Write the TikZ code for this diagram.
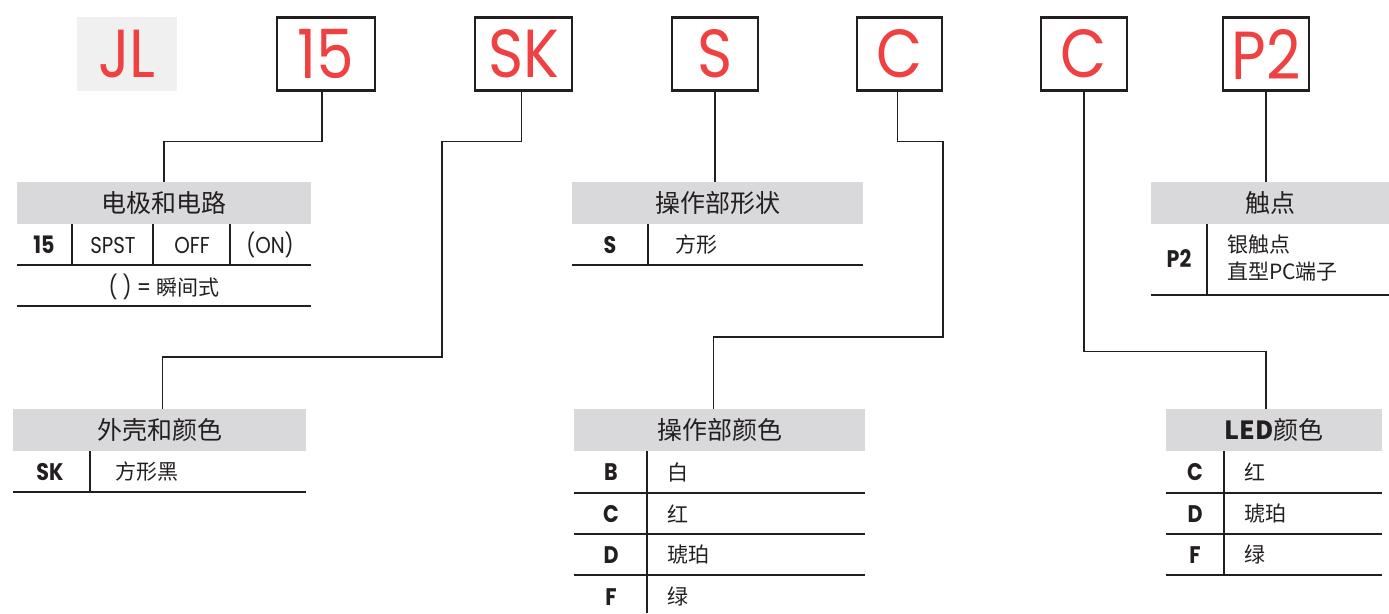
\documentclass[tikz,border=0pt]{standalone}
\usepackage{fontspec}
\setmainfont{Poppins}[FakeStretch=0.86]
\newfontfamily\cjk{Noto Sans CJK SC}
\newfontfamily\codefont{Poppins}[FakeStretch=0.88]
\usetikzlibrary{calc}

\definecolor{codered}{RGB}{239,65,66}
\definecolor{headgray}{RGB}{217,217,219}
\definecolor{jlgray}{RGB}{240,240,240}
\definecolor{ink}{RGB}{35,31,32}

\begin{document}
\begin{tikzpicture}[x=1pt,y=-1pt,
        codebox/.style={draw=ink, line width=2.5pt, minimum height=73pt, inner sep=0pt, text=codered, font=\codefont\fontsize{68}{70}\selectfont},
        headbar/.style={fill=headgray, minimum height=42pt, inner sep=0pt, text=ink, font=\cjk\fontsize{25}{30}\selectfont},
        code/.style={text=ink, inner sep=0pt, font=\bfseries\fontsize{24}{28}\selectfont},
        entry/.style={anchor=west, text=ink, inner sep=0pt, font=\cjk\fontsize{21}{26}\selectfont},
        word/.style={text=ink, inner sep=0pt, font=\fontsize{23}{27}\selectfont},
        tabline/.style={draw=ink, line width=1.2pt},
        link/.style={draw=ink, line width=1.2pt}]

            \useasboundingbox (0,0) rectangle (1389,613);

            \node[fill=jlgray, minimum width=100pt, minimum height=74pt, inner sep=0pt, text=codered, font=\codefont\fontsize{68}{70}\selectfont] (jl) at (127,54) {JL};
            \node[codebox, minimum width=98pt] (c15) at (326,54) {15};
            \node[codebox, minimum width=97pt] (cSK) at (523.5,54) {SK};
            \node[codebox, minimum width=86pt] (cS) at (715,54) {S};
            \node[codebox, minimum width=85pt] (cC) at (899.5,54) {C};
            \node[codebox, minimum width=86pt] (cLED) at (1084,54) {C};
            \node[codebox, minimum width=86pt] (cP2) at (1266,54) {P2};

            \node[headbar, minimum width=294pt] (h15) at (164,203) {电极和电路};
            \node[code] (n15) at (44,245) {15};
            \node[word] (spst) at (113,245) {SPST};
            \node[word] (off) at (192,245) {OFF};
            \node[word] (on) at (270,245) {(ON)};
            \node[word] (mom) at (164,287) {(\hspace{5pt}) = {\cjk\fontsize{21}{26}\selectfont 瞬间式}};
            \draw[tabline] (72,224) -- (72,265) (153,224) -- (153,265) (230,224) -- (230,265);
            \draw[tabline] (17,265) -- (311,265) (17,306) -- (311,306);

            \node[headbar, minimum width=291pt] (hS) at (717.5,203) {操作部形状};
            \node[code] (nS) at (610,245) {S};
            \node[entry] (square) at (675,245) {方形};
            \draw[tabline] (648,224) -- (648,265) (572,265) -- (863,265);

            \node[headbar, minimum width=238pt] (hP2) at (1270,203) {触点};
            \node[code] (nP2) at (1179,259) {P2};
            \node[entry] (silver) at (1227,245) {银触点};
            \node[entry] (pcpin) at (1227,272) {直型PC端子};
            \draw[tabline] (1207,224) -- (1207,295) (1151,295) -- (1389,295);

            \node[headbar, minimum width=293pt] (hSK) at (159.5,430) {外壳和颜色};
            \node[code] (nSK) at (50,472) {SK};
            \node[entry] (black) at (115,472) {方形黑};
            \draw[tabline] (90,451) -- (90,492) (13,492) -- (306,492);

            \node[headbar, minimum width=291pt] (hOpC) at (719.5,430) {操作部颜色};
            \node[code] (nB) at (611,472) {B};
            \node[code] (nC) at (611,514) {C};
            \node[code] (nD) at (611,555) {D};
            \node[code] (nF) at (611,597) {F};
            \node[entry] (white) at (667,472) {白};
            \node[entry] (red) at (667,514) {红};
            \node[entry] (amber) at (667,555) {琥珀};
            \node[entry] (green) at (667,597) {绿};
            \draw[tabline] (647,451) -- (647,613) (574,493) -- (865,493) (574,534) -- (865,534) (574,575) -- (865,575);

            \node[headbar, minimum width=216pt] (hLED) at (1274,430) {{\bfseries LED}颜色};
            \node[code] (lC) at (1195,472) {C};
            \node[code] (lD) at (1195,514) {D};
            \node[code] (lF) at (1195,555) {F};
            \node[entry] (lred) at (1244,472) {红};
            \node[entry] (lamber) at (1244,514) {琥珀};
            \node[entry] (lgreen) at (1244,555) {绿};
            \draw[tabline] (1224,451) -- (1224,575) (1166,493) -- (1382,493) (1166,534) -- (1382,534) (1166,575) -- (1382,575);

            \draw[link] ($(c15.south)+(-4,0)$) -- ++(0,50) -| (h15.north);
            \draw[link] ($(cSK.south)+(-2,0)$) -- ++(0,50) -| (442,357) -| ($(hSK.north)+(3,0)$);
            \draw[link] (cS.south) -- (cS.south |- hS.north);
            \draw[link] ($(cC.south)+(-2,0)$) -- ++(0,50) -| (943,337) -| ($(hOpC.north)+(-6,0)$);
            \draw[link] (cLED.south) -- ++(0,260) -| ($(hLED.north)+(-8,0)$);
            \draw[link] (cP2.south) -- (cP2.south |- hP2.north);

        \end{tikzpicture}
\end{document}
